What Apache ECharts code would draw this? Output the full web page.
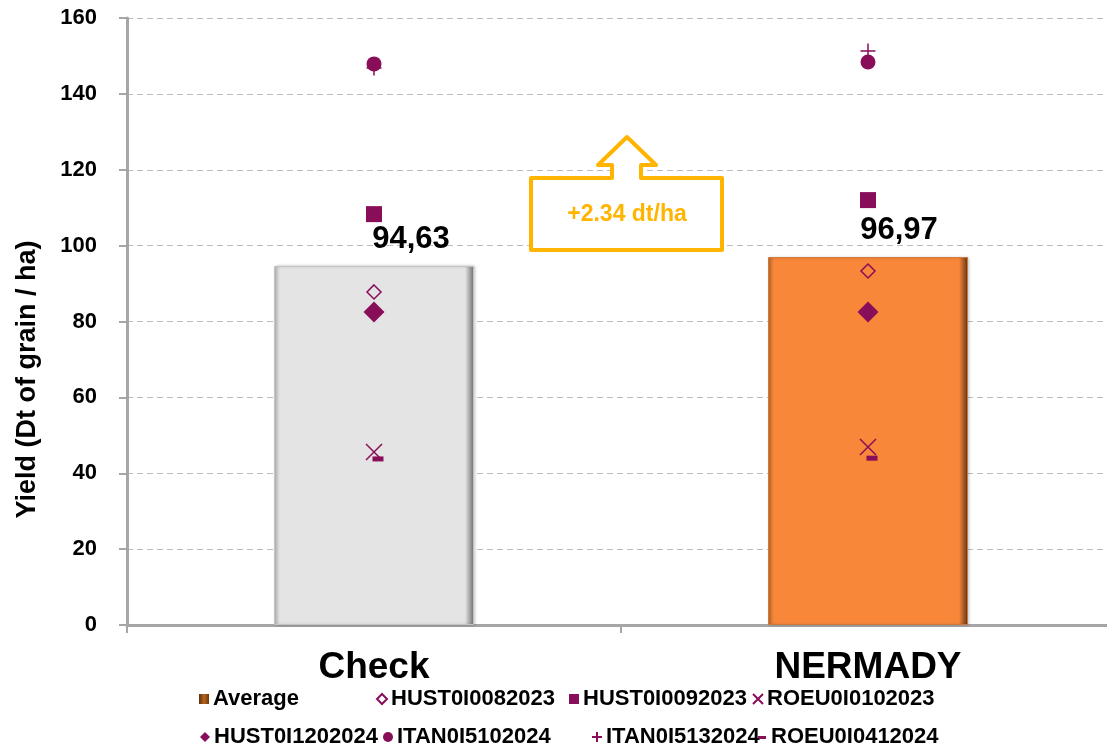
<!DOCTYPE html>
<html>
<head>
<meta charset="utf-8">
<script src="https://cdn.jsdelivr.net/npm/echarts@6/dist/echarts.min.js"></script>
<style>
  html, body { margin: 0; padding: 0; background: #fff; }
  #graph { width: 1107px; height: 747px; }
</style>
</head>
<body>
<div id="graph"></div>
<script>
// categories and values
var categories = ['Check', 'NERMADY'];
var average = [94.63, 96.97];
var hust0082023 = [87.8, 93.3];
var hust0092023 = [108.3, 112.0];
var roeu0102023 = [45.6, 46.9];
var hust1202024 = [82.5, 82.5];
var itan5102024 = [147.9, 148.4];
var itan5132024 = [146.8, 151.3];
var roeu0412024 = [44.3, 44.5];
var yTicks = [0, 20, 40, 60, 80, 100, 120, 140, 160];

var purple = '#880E5A';
var font = 'Liberation Sans, Arial, sans-serif';

var myChart = echarts.init(document.getElementById('graph'));

function barColor(left, light, right) {
    return new echarts.graphic.LinearGradient(0, 0, 1, 0, [
        { offset: 0, color: left },
        { offset: 0.03, color: light },
        { offset: 0.955, color: light },
        { offset: 1, color: right }
    ]);
}

function scatter(name, data, symbol, size, extra) {
    var s = {
        name: name,
        type: 'scatter',
        data: data,
        symbol: symbol,
        symbolSize: size,
        itemStyle: { color: purple, opacity: 1 },
        z: 5
    };
    for (var k in extra) s[k] = extra[k];
    return s;
}

var strokeStyle = { color: 'rgba(0,0,0,0)', borderColor: purple, borderWidth: 1.5, opacity: 1 };

var legendItems = [
    ['Average', 199, 688],
    ['HUST0I0082023', 376, 688],
    ['HUST0I0092023', 569, 688],
    ['ROEU0I0102023', 752, 688],
    ['HUST0I1202024', 200, 726],
    ['ITAN0I5102024', 383, 726],
    ['ITAN0I5132024', 591, 726],
    ['ROEU0I0412024', 757, 726]
];
var legends = legendItems.map(function (it) {
    var d = { name: it[0] };
    if (it[0] === 'Average') {
        d.icon = 'rect';
        d.itemStyle = {
            color: new echarts.graphic.LinearGradient(0, 0, 1, 0, [
                { offset: 0, color: '#5A2E08' },
                { offset: 0.5, color: '#B8651C' },
                { offset: 1, color: '#6A3A0C' }
            ])
        };
    }
    if (it[0] === 'ROEU0I0412024') {
        d.icon = 'path://M0,0L0,0M1,4h8v3h-8zM10,10L10,10';
    }
    return {
        data: [d],
        left: it[1],
        top: it[2],
        padding: 0,
        itemWidth: 10,
        itemHeight: 10,
        itemGap: 4,
        selectedMode: false,
        textStyle: { fontFamily: font, fontWeight: 'bold', fontSize: 22, color: '#000', padding: [0, 0, 0, -1] }
    };
});

var labelStyle = {
    show: true,
    position: 'top',
    fontSize: 31,
    fontWeight: 'bold',
    color: '#000',
    formatter: function (p) { return p.value.toFixed(2).replace('.', ','); }
};

var option = {
    animation: false,
    textStyle: { fontFamily: font },
    legend: legends,
    grid: { left: 127, top: 18, width: 988, bottom: 122, outerBoundsMode: 'none', containLabel: false },
    xAxis: {
        type: 'category',
        data: categories,
        axisLine: { lineStyle: { color: '#A6A6A6', width: 3 } },
        axisTick: { show: true, length: 8, lineStyle: { color: '#A6A6A6', width: 2 } },
        axisLabel: { fontSize: 37, fontWeight: 'bold', color: '#000', margin: 24 }
    },
    yAxis: {
        type: 'value',
        min: 0,
        max: 160,
        interval: 20,
        name: 'Yield (Dt of grain / ha)',
        nameLocation: 'middle',
        nameRotate: 90,
        nameGap: 86,
        nameTextStyle: { fontSize: 27, fontWeight: 'bold', color: '#000', padding: [0, 116, 0, 0] },
        axisLine: { show: true, lineStyle: { color: '#A6A6A6', width: 3 } },
        axisTick: { show: true, length: 8, lineStyle: { color: '#A6A6A6', width: 2 } },
        axisLabel: {
            fontSize: 22, fontWeight: 'bold', color: '#000', margin: 30,
            formatter: function (v) { return yTicks.indexOf(v) >= 0 ? String(v) : ''; }
        },
        splitLine: { lineStyle: { color: '#BDBDBD', type: [6, 4], width: 1 } }
    },
    series: [
        {
            name: 'Average',
            type: 'bar',
            barWidth: 200,
            data: [
                {
                    value: average[0],
                    itemStyle: { color: barColor('#B4B4B4', '#E4E4E4', '#6E6E6E'), borderColor: '#C4C4C4', borderWidth: 1 },
                    label: { offset: [37, -6] }
                },
                {
                    value: average[1],
                    itemStyle: { color: barColor('#B8682E', '#F8873A', '#5C3414'), borderColor: '#D0773A', borderWidth: 1 },
                    label: { offset: [31, -6] }
                }
            ],
            itemStyle: { shadowColor: 'rgba(0,0,0,0.2)', shadowBlur: 3, shadowOffsetX: 1 },
            label: labelStyle,
            z: 2
        },
        scatter('HUST0I0082023', hust0082023, 'diamond', 14, { itemStyle: strokeStyle }),
        scatter('HUST0I0092023', hust0092023, 'rect', 16, {}),
        scatter('ROEU0I0102023', roeu0102023, 'path://M0,0L10,10M10,0L0,10', 16, { itemStyle: strokeStyle }),
        scatter('HUST0I1202024', hust1202024, 'diamond', 21, {}),
        scatter('ITAN0I5102024', itan5102024, 'circle', 15, {}),
        scatter('ITAN0I5132024', itan5132024, 'path://M5,0L5,10M0,5L10,5', 15, { itemStyle: strokeStyle }),
        scatter('ROEU0I0412024', roeu0412024, 'rect', [11, 5], { symbolOffset: [4, 2] })
    ],
    graphic: [
        {
            type: 'polygon',
            shape: {
                points: [[531, 178], [612, 178], [612, 165], [598, 165], [627, 137], [656, 165],
                         [641, 165], [641, 178], [722, 178], [722, 250], [531, 250]]
            },
            style: { fill: '#fff', stroke: '#FFB400', lineWidth: 4, lineJoin: 'round' },
            z: 10
        },
        {
            type: 'text',
            x: 627,
            y: 215,
            style: {
                text: '+2.34 dt/ha',
                fill: '#FFB400',
                font: 'bold 23px ' + font,
                align: 'center',
                verticalAlign: 'middle'
            },
            z: 11
        }
    ]
};

myChart.setOption(option);
</script>
</body>
</html>
